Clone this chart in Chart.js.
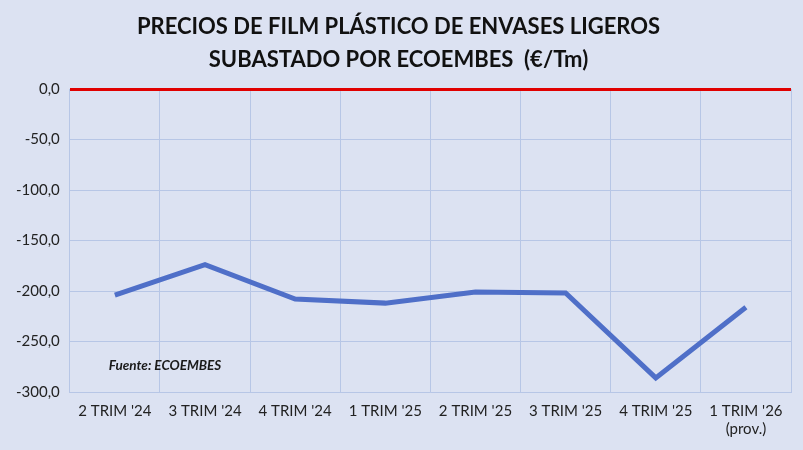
<!DOCTYPE html>
<html>
<head>
<meta charset="utf-8">
<script src="https://cdn.jsdelivr.net/npm/chart.js@4"></script>
<style>
  html, body { margin: 0; padding: 0; background: #dce2f2; }
  #wrap { width: 803px; height: 450px; }
</style>
</head>
<body>
<div id="wrap"><canvas id="filmChart"></canvas></div>
<script>
const categories = ["2 TRIM '24", "3 TRIM '24", "4 TRIM '24", "1 TRIM '25", "2 TRIM '25", "3 TRIM '25", "4 TRIM '25", ["1 TRIM '26", "(prov.)"]];
const precios = [-204, -174, -208, -212, -201, -202, -286, -216];
const titleLines = ["PRECIOS DE FILM PLÁSTICO DE ENVASES LIGEROS", "SUBASTADO POR ECOEMBES  (€/Tm)"];
const sourceNote = "Fuente: ECOEMBES";

const gridColor = "#b7c6e6";

// small note in the lower left of the plot
const sourcePlugin = {
  id: "sourceNote",
  afterDatasetsDraw(chart) {
    const ctx = chart.ctx;
    const area = chart.chartArea;
    ctx.save();
    ctx.font = "italic bold 13.5px Lato";
    ctx.fillStyle = "#1a1a1a";
    ctx.textBaseline = "middle";
    ctx.fillText(sourceNote, area.left + 39, chart.scales.y.getPixelForValue(-274));
    ctx.restore();
  }
};

const ctx = document.getElementById("filmChart").getContext("2d");
window.filmChart = new Chart(ctx, {
  type: "line",
  data: {
    labels: categories,
    datasets: [
      {
        label: "Precio",
        data: precios,
        borderColor: "#4f6fc8",
        borderWidth: 5,
        pointRadius: 0,
        tension: 0,
        fill: false,
      },
    ],
  },
  options: {
    responsive: true,
    maintainAspectRatio: false,
    animation: false,
    layout: { padding: { top: 10, right: 12, left: 6, bottom: 2 } },
    plugins: {
      legend: { display: false },
      tooltip: { enabled: false },
      title: {
        display: true,
        text: titleLines,
        color: "#111111",
        font: { family: "Lato", size: 22, weight: "bold", lineHeight: 1.5 },
        padding: { top: 0, bottom: 13 },
      },
    },
    scales: {
      x: {
        offset: true,
        grid: { color: gridColor, lineWidth: 1, offset: true, drawTicks: false },
        border: { color: gridColor },
        ticks: {
          color: "#222222",
          font: { family: "Lato", size: 15 },
          padding: 10,
          maxRotation: 0,
          autoSkip: false,
        },
      },
      y: {
        min: -300,
        max: 0,
        grid: {
          color: (c) => (c.tick && c.tick.value === 0 ? "#e00000" : gridColor),
          lineWidth: (c) => (c.tick && c.tick.value === 0 ? 3 : 1),
          drawTicks: false,
        },
        border: { display: false },
        ticks: {
          stepSize: 50,
          color: "#222222",
          font: { family: "Lato", size: 15 },
          padding: 10,
          callback: (v) => v.toFixed(1).replace(".", ","),
        },
      },
    },
  },
  plugins: [sourcePlugin],
});
</script>
</body>
</html>
